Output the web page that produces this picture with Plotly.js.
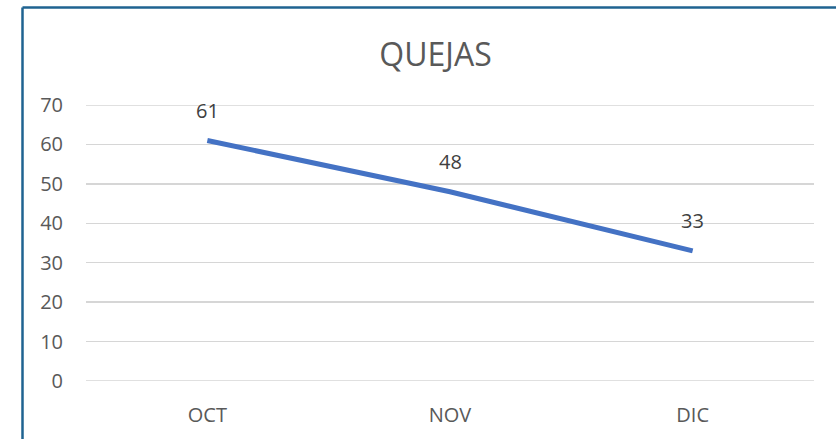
<!DOCTYPE html>
<html>
<head>
<meta charset="utf-8">
<script src="https://cdn.plot.ly/plotly-3.0.1.min.js"></script>
<style>
html,body{margin:0;padding:0;background:#fff;}
#chart{width:836px;height:439px;}
</style>
</head>
<body>
<div id="chart"></div>
<script>
const categories = ["OCT", "NOV", "DIC"];
const quejas = [61, 48, 33];
const yTicks = [0, 10, 20, 30, 40, 50, 60, 70];
const chartTitle = "QUEJAS";

const L = 86, R = 22, T = 105, B = 58, W = 836, H = 439;
const pw = W - L - R, ph = H - T - B;
const px = v => (v - L) / pw;
const py = v => (H - B - v) / ph;

const trace = {
  x: categories,
  y: quejas,
  type: 'scatter',
  mode: 'lines',
  line: {color: '#4472C4', width: 5},
  hoverinfo: 'skip'
};

const annotations = categories.map((c, i) => ({
  x: c, y: quejas[i], xref: 'x', yref: 'y',
  text: String(quejas[i]),
  showarrow: false,
  yshift: 30,
  font: {family: 'Open Sans, sans-serif', size: 20, color: '#404040'}
}));

const gridColor = '#d6d6d6';
const edgeGrid = [yTicks[0], yTicks[yTicks.length - 1]].map(v => ({
  type: 'line', xref: 'paper', yref: 'y',
  x0: 0, x1: 1, y0: v, y1: v, layer: 'below',
  line: {color: gridColor, width: 1.5}
}));

const layout = {
  width: W, height: H,
  margin: {l: L, r: R, t: T, b: B, pad: 0},
  paper_bgcolor: '#ffffff',
  plot_bgcolor: '#ffffff',
  showlegend: false,
  title: {
    text: chartTitle,
    x: 0.521, xref: 'container', xanchor: 'center',
    y: 1 - 55 / H, yref: 'container', yanchor: 'middle',
    font: {family: 'Open Sans, sans-serif', size: 32, color: '#595959'}
  },
  xaxis: {
    type: 'category',
    range: [-0.5, 2.5],
    showgrid: false,
    zeroline: false,
    showline: false,
    ticks: '',
    ticklabelstandoff: 20,
    tickfont: {family: 'Open Sans, sans-serif', size: 20, color: '#595959'},
    fixedrange: true
  },
  yaxis: {
    range: [0, 70],
    tickvals: yTicks,
    ticktext: yTicks.map(String),
    showgrid: true,
    gridcolor: gridColor,
    gridwidth: 1.5,
    zeroline: false,
    showline: false,
    ticks: '',
    ticklabelstandoff: 22,
    tickfont: {family: 'Open Sans, sans-serif', size: 20, color: '#595959'},
    fixedrange: true
  },
  shapes: [
    {type: 'line', xref: 'paper', yref: 'paper',
     x0: px(22.5), x1: px(840), y0: py(7.5), y1: py(7.5),
     line: {color: '#1f6391', width: 2.5}},
    {type: 'line', xref: 'paper', yref: 'paper',
     x0: px(22.5), x1: px(22.5), y0: py(7.5), y1: py(445),
     line: {color: '#1f6391', width: 2.5}}
  ].concat(edgeGrid),
  annotations: annotations
};

Plotly.newPlot('chart', [trace], layout, {displayModeBar: false, staticPlot: true});
</script>
</body>
</html>
